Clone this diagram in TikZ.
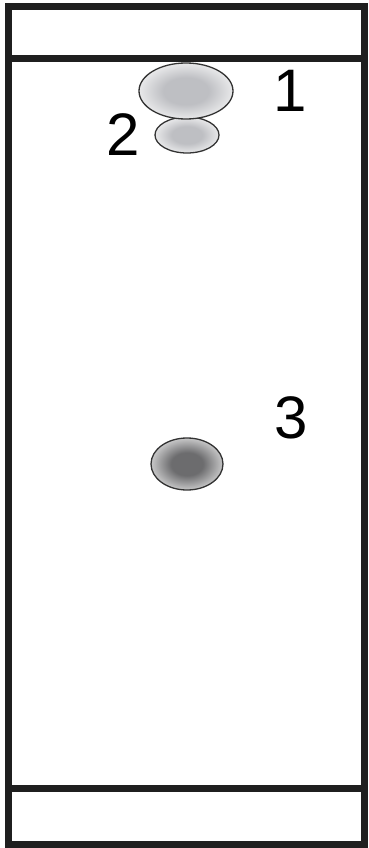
\documentclass[tikz,border=0pt]{standalone}
\usepackage{fontspec}
\setmainfont{Liberation Sans}
\definecolor{spotAin}{RGB}{190,191,195}
\definecolor{spotAout}{RGB}{252,252,252}
\definecolor{spotBin}{RGB}{108,108,110}
\definecolor{spotBout}{RGB}{238,238,238}
\pgfdeclareradialshading{spotlightA}{\pgfpoint{0bp}{0bp}}{%
  color(0bp)=(spotAin); color(12bp)=(spotAin); color(31bp)=(spotAout); color(50bp)=(spotAout)}
\pgfdeclareradialshading{spotlightB}{\pgfpoint{0bp}{0bp}}{%
  color(0bp)=(spotBin); color(11bp)=(spotBin); color(31bp)=(spotBout); color(50bp)=(spotBout)}
\begin{document}
\begin{tikzpicture}[x=1pt,y=-1pt,
  frame/.style={draw=black!88,line width=7pt},
  spot/.style={draw=black!80,line width=1.3pt},
  lbl/.style={font=\fontsize{60}{60}\selectfont,inner sep=0pt}]
\useasboundingbox (0,0) rectangle (369,848);
\draw[frame] (8,7) rectangle (364,844);
\draw[frame] (8,59) coordinate (tl) -- (364,59) coordinate (tr);
\draw[frame] (8,788) coordinate (bl) -- (364,788) coordinate (br);
\shade[shading=spotlightA] (187,135) ellipse [x radius=32,y radius=18];
\draw[spot] (187,135) ellipse [x radius=32,y radius=18];
\shade[shading=spotlightA] (186,91) ellipse [x radius=47,y radius=28];
\draw[spot] (186,91) ellipse [x radius=47,y radius=28];
\shade[shading=spotlightB] (187,464) ellipse [x radius=36,y radius=26];
\draw[spot] (187,464) ellipse [x radius=36,y radius=26];
\node[lbl] (l1) at (290,91) {1};
\node[lbl] (l2) at (123,135) {2};
\node[lbl] (l3) at (291,418) {3};
\end{tikzpicture}
\end{document}
